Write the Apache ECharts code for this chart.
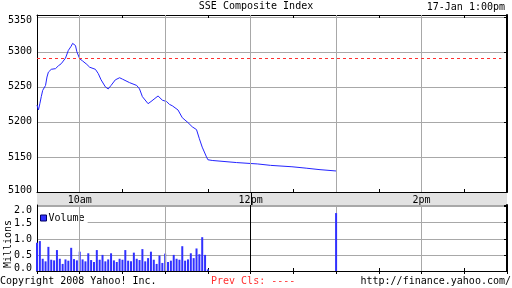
<!DOCTYPE html>
<html><head><meta charset="utf-8">
<script src="https://cdn.jsdelivr.net/npm/echarts@6/dist/echarts.min.js"></script>
<style>html,body{margin:0;padding:0;background:#fff}#c{width:512px;height:288px}</style>
</head><body><div id="c"></div>
<script>
const priceTimes = ['09:30','09:31','09:32','09:33','09:34','09:36','09:37','09:38','09:40','09:43','09:45','09:47','09:50','09:52','09:54','09:55','09:57','09:58','10:00','10:02','10:05','10:07','10:11','10:13','10:15','10:18','10:20','10:22','10:25','10:28','10:30','10:35','10:40','10:42','10:44','10:48','10:50','10:55','10:58','11:01','11:03','11:05','11:09','11:12','11:16','11:19','11:22','11:24','11:26','11:29','11:30','11:33','11:50','12:05','12:14','12:29','12:39','12:48','13:00'];
const priceValues = [5224,5217,5226,5236,5245,5252,5264,5271,5275,5276,5280,5283,5291,5302,5308,5312,5309,5300,5290,5287,5282,5278,5275,5269,5260,5250,5247,5252,5260,5263,5261,5256,5252,5247,5236,5226,5229,5237,5231,5229,5225,5223,5217,5206,5199,5193,5189,5176,5164,5150,5146,5145,5142,5140,5138,5136,5134,5132,5130];
const volTimes = ['09:30','09:32','09:34','09:36','09:38','09:40','09:42','09:44','09:46','09:48','09:50','09:52','09:54','09:56','09:58','10:00','10:02','10:04','10:06','10:08','10:10','10:12','10:14','10:16','10:18','10:20','10:22','10:24','10:26','10:28','10:30','10:32','10:34','10:36','10:38','10:40','10:42','10:44','10:46','10:48','10:50','10:52','10:54','10:56','10:58','11:00','11:02','11:04','11:06','11:08','11:10','11:12','11:14','11:16','11:18','11:20','11:22','11:24','11:26','11:28','11:30','13:00'];
const volValues = [0.88,0.93,0.38,0.30,0.75,0.35,0.33,0.65,0.38,0.22,0.36,0.32,0.72,0.37,0.33,0.60,0.36,0.30,0.55,0.34,0.28,0.65,0.35,0.50,0.30,0.36,0.55,0.33,0.28,0.38,0.35,0.65,0.32,0.30,0.57,0.38,0.34,0.68,0.30,0.40,0.60,0.35,0.22,0.48,0.25,0.54,0.28,0.32,0.50,0.38,0.35,0.77,0.32,0.36,0.55,0.40,0.70,0.52,1.05,0.50,0.05,1.80];
const prevClose = 5290.6;
const hourLines = ['10:00','11:00','12:00','13:00','14:00'];
const xTickLabels = {'10:00':'10am','12:00':'12pm','14:00':'2pm'};
const priceTicks = [5100,5150,5200,5250,5300,5350];
const volTicks = ['0.0','0.5','1.0','1.5','2.0'];

const FONT = 'DejaVu Sans Mono';
const toMin = t => { const p = t.split(':'); return (+p[0]) * 60 + (+p[1]); };
const fmtMin = m => { const h = Math.floor(m / 60), mm = m % 60; return (h < 10 ? '0' : '') + h + ':' + (mm < 10 ? '0' : '') + mm; };
const GRID = '#a8a8a8';
const VMAX = 2.05;
const chart = echarts.init(document.getElementById('c'), null, {renderer: 'canvas'});

function xAx(grid, pos, labels) {
  return {
    type: 'value', gridIndex: grid, position: pos, min: 570, max: 900, interval: 30,
    axisLine: {show: true, lineStyle: {color: '#000', width: 1}},
    axisTick: {show: true, inside: true, length: 3, lineStyle: {color: '#000'}},
    axisLabel: labels ? {show: true, margin: 3, fontFamily: FONT, fontSize: 10, color: '#000',
      formatter: v => xTickLabels[fmtMin(Math.round(v))] || ''} : {show: false},
    splitLine: {show: false}
  };
}
const rich = {
  t: {fontFamily: FONT, fontSize: 10, color: '#000', padding: [7, 0, 0, 0]},
  b: {fontFamily: FONT, fontSize: 10, color: '#000', padding: [0, 0, 4, 0]},
  t2: {fontFamily: FONT, fontSize: 10, color: '#000', padding: [8, 0, 0, 0]},
  b2: {fontFamily: FONT, fontSize: 10, color: '#000', padding: [0, 0, 5, 0]},
  n: {fontFamily: FONT, fontSize: 10, color: '#000', padding: [2, 0, 0, 0]}
};
const volIdx13 = volTimes.indexOf('13:00');

const option = {
  animation: false,
  backgroundColor: '#fff',
  title: {text: 'SSE Composite Index', left: 'center', top: 0, padding: [1, 0, 0, 0],
    textStyle: {fontFamily: FONT, fontSize: 10, fontWeight: 'normal', color: '#000'}},
  legend: {data: [{name: 'Volume', itemStyle: {color: '#3030ff', borderColor: '#000060', borderWidth: 1}}],
    left: 38, top: 212, padding: [1, 3, 2, 2], itemWidth: 6, itemHeight: 6,
    backgroundColor: '#fff', icon: 'rect', itemGap: 4,
    textStyle: {fontFamily: FONT, fontSize: 10, color: '#000', padding: [0, 0, 0, -3]}},
  grid: [
    {left: 37, right: 5, top: 15, height: 177},
    {left: 37, right: 5, top: 205, height: 66}
  ],
  xAxis: [xAx(0, 'bottom', true), xAx(0, 'top', false), xAx(1, 'bottom', false), xAx(1, 'top', false)],
  yAxis: [
    {type: 'value', gridIndex: 0, position: 'left', min: 5100, max: 5352.5, interval: 50,
      axisLine: {show: true, lineStyle: {color: '#000'}}, axisTick: {show: false},
      axisLabel: {margin: 5, fontFamily: FONT, fontSize: 10, color: '#000', rich: rich,
        formatter: v => priceTicks.indexOf(v) < 0 ? '' : (v === 5350 ? '{t|' + v + '}' : v === 5100 ? '{b|' + v + '}' : String(v))},
      splitLine: {show: true, lineStyle: {color: GRID, width: 1}}},
    {type: 'value', gridIndex: 0, position: 'right', min: 5100, max: 5352.5, interval: 50,
      axisLine: {show: true, lineStyle: {color: '#000', width: 2}},
      axisTick: {show: true, inside: true, length: 3, lineStyle: {color: '#000'}},
      axisLabel: {show: false}, splitLine: {show: false}},
    {type: 'value', gridIndex: 1, position: 'left', min: 0, max: VMAX, interval: 0.5,
      axisLine: {show: true, lineStyle: {color: '#000'}}, axisTick: {show: false},
      axisLabel: {margin: 5, fontFamily: FONT, fontSize: 10, color: '#000', rich: rich,
        formatter: v => { const s = v.toFixed(1); if (volTicks.indexOf(s) < 0 || Math.abs(v - +s) > 1e-6) return '';
          return s === '2.0' ? '{t2|' + s + '}' : s === '0.0' ? '{b2|' + s + '}' : '{n|' + s + '}'; }},
      splitLine: {show: true, lineStyle: {color: GRID, width: 1}}},
    {type: 'value', gridIndex: 1, position: 'right', min: 0, max: VMAX, interval: 0.5,
      axisLine: {show: true, lineStyle: {color: '#000', width: 2}},
      axisTick: {show: true, inside: true, length: 3, lineStyle: {color: '#000'}},
      axisLabel: {show: false}, splitLine: {show: false}}
  ],
  series: [
    {type: 'line', name: 'grid0', xAxisIndex: 0, yAxisIndex: 0, data: [], z: 1, silent: true,
      markLine: {silent: true, symbol: 'none', label: {show: false}, animation: false,
        lineStyle: {color: GRID, type: 'solid', width: 1},
        data: hourLines.map(t => ({xAxis: toMin(t)}))}},
    {type: 'line', name: 'grid1', xAxisIndex: 2, yAxisIndex: 2, data: [], z: 1, silent: true,
      markLine: {silent: true, symbol: 'none', label: {show: false}, animation: false,
        lineStyle: {color: GRID, type: 'solid', width: 1},
        data: hourLines.map(t => {
          const m = toMin(t);
          if (t === '13:00') return [{coord: [m, volValues[volIdx13]], lineStyle: {color: GRID}}, {coord: [m, VMAX]}];
          return {xAxis: m, lineStyle: t === '12:00' ? {color: '#000'} : {color: GRID}};
        })}},
    {type: 'line', name: 'SSE', xAxisIndex: 0, yAxisIndex: 0, z: 3, symbol: 'none', silent: true,
      lineStyle: {color: '#2424ff', width: 1}, itemStyle: {color: '#2424ff'},
      data: priceTimes.map((t, i) => [toMin(t), priceValues[i]]),
      markLine: {silent: true, symbol: 'none', label: {show: false}, animation: false,
        lineStyle: {color: '#ff3030', type: [3, 3], width: 1},
        data: [[{coord: [570, prevClose]}, {coord: [896, prevClose]}]]}},
    {type: 'bar', name: 'Volume', xAxisIndex: 2, yAxisIndex: 2, z: 3, barWidth: 2, silent: true,
      itemStyle: {color: '#3030ff'},
      data: volTimes.map((t, i) => [toMin(t), volValues[i]])}
  ]
};
chart.setOption(option);

const x12 = chart.convertToPixel({xAxisIndex: 0}, toMin('12:00'));
chart.setOption({graphic: [
  {id: 'band', type: 'rect', z: -100, silent: true, shape: {x: 37, y: 192, width: 470, height: 13}, style: {fill: '#e2e2e2'}},
  {id: 'noon', type: 'line', silent: true, shape: {x1: Math.round(x12) + 0.5, y1: 192, x2: Math.round(x12) + 0.5, y2: 205}, style: {stroke: '#000', lineWidth: 1}},
  {id: 'date', type: 'text', silent: true, x: 505, y: 7, style: {text: '17-Jan 1:00pm', font: '10px "' + FONT + '"', fill: '#000', textAlign: 'right', textVerticalAlign: 'middle'}},
  {id: 'mil', type: 'text', silent: true, x: 8, y: 244, rotation: Math.PI / 2, style: {text: 'Millions', font: '10px "' + FONT + '"', fill: '#000', textAlign: 'center', textVerticalAlign: 'middle'}},
  {id: 'copy', type: 'text', silent: true, x: 0, y: 281, style: {text: 'Copyright 2008 Yahoo! Inc.', font: '10px "' + FONT + '"', fill: '#000', textAlign: 'left', textVerticalAlign: 'middle'}},
  {id: 'prev', type: 'text', silent: true, x: 211, y: 281, style: {text: 'Prev Cls: ----', font: '10px "' + FONT + '"', fill: '#ff3030', textAlign: 'left', textVerticalAlign: 'middle'}},
  {id: 'url', type: 'text', silent: true, x: 511, y: 281, style: {text: 'http://finance.yahoo.com/', font: '10px "' + FONT + '"', fill: '#000', textAlign: 'right', textVerticalAlign: 'middle'}}
]});
</script></body></html>
